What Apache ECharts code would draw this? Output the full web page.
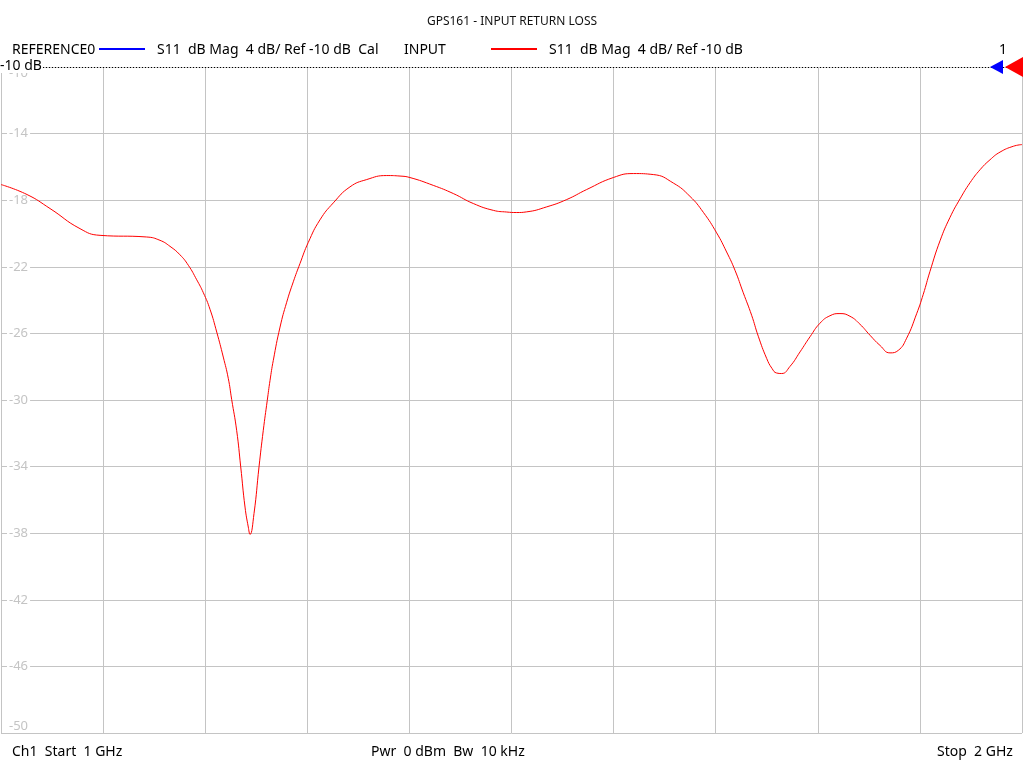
<!DOCTYPE html>
<html>
<head>
<meta charset="utf-8">
<script src="https://cdn.jsdelivr.net/npm/echarts@6/dist/echarts.min.js"></script>
<style>
html,body{margin:0;padding:0;background:#fff;}
#chart{width:1024px;height:768px;}
</style>
</head>
<body>
<div id="chart"></div>
<script>
// Frequency (GHz) and S11 (dB)
const freqGHz = [1.0000,1.0255,1.0480,1.0774,1.0970,1.1427,1.1557,1.1655,1.1753,1.1835,1.1917,1.1982,1.2047,1.2113,1.2177,1.2226,1.2259,1.2308,1.2348,1.2390,1.2422,1.2439,1.2478,1.2527,1.2569,1.2608,1.2635,1.2667,1.2733,1.2798,1.2863,1.2928,1.3010,1.3124,1.3255,1.3418,1.3582,1.3778,1.3908,1.4006,1.4234,1.4430,1.4626,1.4822,1.4953,1.5051,1.5149,1.5345,1.5541,1.5736,1.5997,1.6193,1.6389,1.6585,1.6748,1.6879,1.7009,1.7107,1.7189,1.7270,1.7352,1.7417,1.7499,1.7551,1.7597,1.7646,1.7728,1.7826,1.7924,1.8021,1.8119,1.8217,1.8315,1.8413,1.8511,1.8609,1.8707,1.8788,1.8870,1.8968,1.9033,1.9099,1.9197,1.9295,1.9393,1.9491,1.9589,1.9687,1.9785,1.9915,2.0000];
const s11dB = [-17.06,-17.66,-18.50,-19.71,-20.11,-20.21,-20.41,-20.77,-21.28,-21.91,-22.78,-23.56,-24.55,-25.92,-27.42,-28.70,-29.96,-31.82,-34.02,-36.43,-37.63,-38.07,-36.82,-34.02,-31.82,-30.02,-28.82,-27.62,-25.62,-24.13,-22.90,-21.81,-20.53,-19.18,-18.16,-17.20,-16.76,-16.52,-16.55,-16.64,-17.11,-17.60,-18.20,-18.61,-18.71,-18.74,-18.70,-18.40,-17.96,-17.36,-16.64,-16.40,-16.46,-16.97,-17.77,-18.73,-19.96,-21.11,-22.21,-23.56,-24.91,-26.17,-27.50,-28.10,-28.38,-28.41,-27.98,-27.11,-26.20,-25.39,-24.94,-24.81,-24.97,-25.45,-26.11,-26.72,-27.17,-27.02,-26.29,-24.82,-23.65,-22.27,-20.44,-19.03,-17.92,-16.95,-16.17,-15.57,-15.11,-14.76,-14.66];
const xTicks = [1.0,1.1,1.2,1.3,1.4,1.5,1.6,1.7,1.8,1.9,2.0];
const yTicks = [-50,-46,-42,-38,-34,-30,-26,-22,-18,-14,-10];
const yMidTicks = [-46,-42,-38,-34,-30,-26,-22,-18,-14];
const yMin = -50, yMax = -10, refLevel = -10;

const FONT = '"Noto Sans", "Open Sans", sans-serif';
const chart = echarts.init(document.getElementById('chart'), null, {renderer:'canvas'});

const baseY = {
  type:'value', min:yMin, max:yMax, position:'left', offset:0,
  axisLine:{show:false}, axisTick:{show:false}, splitLine:{show:false}
};
const labelBase = {inside:true, color:'#c4c4c4', fontSize:13, fontFamily:FONT, margin:6};

const option = {
  animation:false,
  backgroundColor:'#ffffff',
  grid:{left:1, right:2, top:67, bottom:35, outerBoundsMode:'none'},
  xAxis:{
    type:'value', min:1, max:2,
    axisLine:{show:false}, axisTick:{show:false, customValues:xTicks},
    axisLabel:{show:false, customValues:xTicks},
    splitLine:{show:true, lineStyle:{color:'#c4c4c4', width:1}}
  },
  yAxis:[
    Object.assign({}, baseY, {
      axisTick:{show:false, customValues:yTicks},
      splitLine:{show:true, lineStyle:{color:'#c4c4c4', width:1}},
      axisLabel:Object.assign({}, labelBase, {customValues:yMidTicks, backgroundColor:'#ffffff', padding:[0,2]})
    }),
    Object.assign({}, baseY, {
      axisLabel:Object.assign({}, labelBase, {customValues:[yMin], verticalAlign:'bottom', margin:8})
    }),
    Object.assign({}, baseY, {
      axisLabel:Object.assign({}, labelBase, {customValues:[yMax], verticalAlign:'top', margin:8})
    })
  ],
  series:[{
    type:'line',
    yAxisIndex:0,
    data:freqGHz.map((f,i)=>[f, s11dB[i]]),
    showSymbol:false,
    smooth:0.5,
    lineStyle:{color:'#ff0000', width:1},
    itemStyle:{color:'#ff0000'},
    z:5,
    markLine:{
      silent:true, symbol:'none', label:{show:false},
      lineStyle:{color:'#000000', type:[1,2], width:1},
      data:[{yAxis:refLevel}]
    }
  }],
  graphic:[
    {type:'text', x:512, y:22, style:{text:'GPS161 - INPUT RETURN LOSS', fill:'#111', fontSize:12, fontFamily:FONT, align:'center', verticalAlign:'middle'}},
    {type:'text', x:12, y:50, style:{text:'REFERENCE0', fill:'#000', fontSize:14, fontFamily:FONT, verticalAlign:'middle'}},
    {type:'line', shape:{x1:99,y1:49,x2:145,y2:49}, style:{stroke:'#0000ff', lineWidth:2}},
    {type:'text', x:157, y:50, style:{text:'S11  dB Mag  4 dB/ Ref -10 dB  Cal', fill:'#000', fontSize:14, fontFamily:FONT, verticalAlign:'middle'}},
    {type:'text', x:404, y:50, style:{text:'INPUT', fill:'#000', fontSize:14, fontFamily:FONT, verticalAlign:'middle'}},
    {type:'line', shape:{x1:491,y1:49,x2:537,y2:49}, style:{stroke:'#ff0000', lineWidth:2}},
    {type:'text', x:549, y:50, style:{text:'S11  dB Mag  4 dB/ Ref -10 dB', fill:'#000', fontSize:14, fontFamily:FONT, verticalAlign:'middle'}},
    {type:'text', x:1003, y:50, style:{text:'1', fill:'#000', fontSize:14, fontFamily:FONT, align:'center', verticalAlign:'middle'}},
    {type:'text', x:0, y:66, z:20, style:{text:'-10 dB', fill:'#000', fontSize:14, fontFamily:FONT, verticalAlign:'middle', backgroundColor:'#ffffff', padding:[0,1,0,0]}},
    {type:'polygon', z:20, shape:{points:[[1003,60],[1003,74],[990,67]]}, style:{fill:'#0000ff'}},
    {type:'polygon', z:21, shape:{points:[[1023,57],[1023,77],[1005,67]]}, style:{fill:'#ff0000'}},
    {type:'text', x:12, y:752, style:{text:'Ch1  Start  1 GHz', fill:'#000', fontSize:14, fontFamily:FONT, verticalAlign:'middle'}},
    {type:'text', x:371, y:752, style:{text:'Pwr  0 dBm  Bw  10 kHz', fill:'#000', fontSize:14, fontFamily:FONT, verticalAlign:'middle'}},
    {type:'text', x:937, y:752, style:{text:'Stop  2 GHz', fill:'#000', fontSize:14, fontFamily:FONT, verticalAlign:'middle'}}
  ]
};
chart.setOption(option);
</script>
</body>
</html>
